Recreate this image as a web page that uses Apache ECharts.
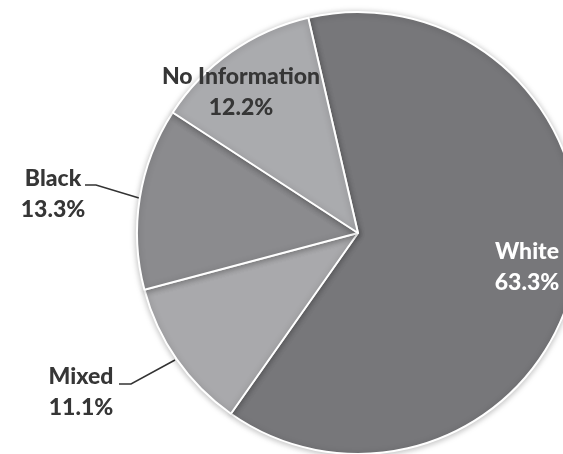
<!DOCTYPE html>
<html><head><meta charset="utf-8">
<script src="https://cdn.jsdelivr.net/npm/echarts@6/dist/echarts.min.js"></script>
<style>html,body{margin:0;padding:0;background:#fff}#c{width:563px;height:454px}</style>
</head><body><div id="c"></div>
<script>
const categories = ['White', 'Mixed', 'Black', 'No Information'];
const values = [63.3, 11.1, 13.3, 12.2];
const colors = ['#77777a', '#a9a9ac', '#8b8b8e', '#aaabae'];
const labelColors = ['#ffffff', '#363636', '#363636', '#363636'];

const chart = echarts.init(document.getElementById('c'), null, {renderer: 'canvas'});
const labelPos = [
  {x: 527, y: 267, line: null},
  {x: 81, y: 392, line: [[175, 360], [131, 384], [119, 384]]},
  {x: 53, y: 194, line: [[139, 198], [96, 185], [85, 185]]},
  {x: 241, y: 92, line: null}
];
chart.setOption({
  animation: false,
  series: [{
    type: 'pie',
    center: [358, 233],
    radius: 221,
    startAngle: 103,
    clockwise: true,
    avoidLabelOverlap: false,
    data: categories.map((c, i) => ({
      name: c, value: values[i],
      itemStyle: {color: colors[i]},
      label: {color: labelColors[i]}
    })),
    itemStyle: {borderColor: '#ffffff', borderWidth: 2, shadowBlur: 6, shadowColor: 'rgba(0,0,0,0.25)', shadowOffsetX: 0, shadowOffsetY: 1},
    label: {
      show: true,
      position: 'outside',
      formatter: p => p.name + '\n' + p.value.toFixed(1) + '%',
      fontFamily: 'Lato',
      fontWeight: 900,
      fontSize: 23,
      lineHeight: 31,
      align: 'center'
    },
    labelLine: {show: true, lineStyle: {color: '#333333', width: 1.5}},
    labelLayout: function (params) {
      const p = labelPos[params.dataIndex];
      const o = {x: p.x, y: p.y, align: 'center', verticalAlign: 'middle'};
      if (p.line) o.labelLinePoints = p.line;
      return o;
    }
  }]
});
</script></body></html>
